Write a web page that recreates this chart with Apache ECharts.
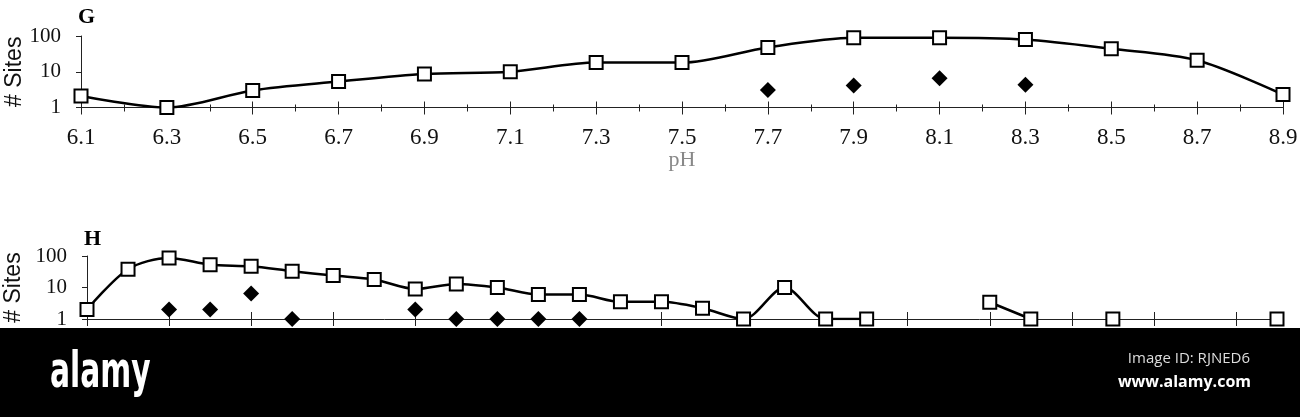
<!DOCTYPE html>
<html>
<head>
<meta charset="utf-8">
<script src="https://cdn.jsdelivr.net/npm/echarts@6/dist/echarts.min.js"></script>
<style>
  html, body { margin: 0; padding: 0; background: #fff; }
  #chart { width: 1300px; height: 417px; }
</style>
</head>
<body>
<div id="chart"></div>
<script>
// ---- Panel G (pH) ----
const gTickLabels = ['6.1','6.2','6.3','6.4','6.5','6.6','6.7','6.8','6.9','7.0',
  '7.1','7.2','7.3','7.4','7.5','7.6','7.7','7.8','7.9','8.0',
  '8.1','8.2','8.3','8.4','8.5','8.6','8.7','8.8','8.9'];
const gPH = ['6.1','6.3','6.5','6.7','6.9','7.1','7.3','7.5','7.7','7.9','8.1','8.3','8.5','8.7','8.9'];
const gSquares = [2.1, 1, 3, 5.3, 8.7, 10, 18, 18, 48, 89, 90, 80, 44, 21, 2.3];
const gDiamondPH = ['7.7','7.9','8.1','8.3'];
const gDiamonds = [3.1, 4.1, 6.6, 4.3];

// ---- Panel H (x labels hidden in source) ----
const hPositions = ['1','2','3','4','5','6','7','8','9','10','11','12','13','14','15',
  '16','17','18','19','20','21','22','23','24','25','26','27','28','29','30'];
const hSquares = [2, 38, 87, 53, 47, 33, 24, 18, 9, 13, 10, 6, 6, 3.5, 3.5,
  2.2, 1, 10, 1, 1, null, null, 3.4, 1, null, 1, null, null, null, 1];
const hDiamonds = [null, null, 2, 2, 6.5, 1, null, null, 2, 1, 1, 1, 1, null, null,
  null, null, null, null, null, null, null, null, null, null, null, null, null, null, null];

const yTicks = ['1', '10', '100'];

const SERIF = 'Liberation Serif';
const SANS = 'Liberation Sans';
const chart = echarts.init(document.getElementById('chart'), null, { renderer: 'canvas' });

function tickAxis(gridIndex, data, opts) {
  return Object.assign({
    type: 'category', gridIndex: gridIndex, data: data, boundaryGap: false,
    position: 'bottom',
    axisLine: { show: false }, axisLabel: { show: false }, splitLine: { show: false }
  }, opts);
}

function yAxis(gridIndex, nameGap) {
  return {
    type: 'log', logBase: 10, min: 1, max: 100, gridIndex: gridIndex,
    axisLine: { show: true, lineStyle: { color: '#222', width: 1 } },
    axisTick: { show: true, length: 5, lineStyle: { color: '#222' } },
    splitLine: { show: false },
    minorTick: { show: false },
    axisLabel: {
      fontFamily: SERIF, fontSize: 21, color: '#111', margin: 20,
      padding: [0, 0, 10, 0],
      formatter: v => yTicks.includes(String(Math.round(v))) ? String(Math.round(v)) : ''
    },
    name: '# Sites', nameLocation: 'middle', nameRotate: 90, nameGap: nameGap,
    nameMoveOverlap: false,
    nameTextStyle: { fontFamily: SANS, fontSize: 23, color: '#111' }
  };
}

const squareStyle = { color: '#fff', borderColor: '#000', borderWidth: 2 };

chart.setOption({
  animation: false,
  backgroundColor: '#fff',
  title: [
    { text: 'G', left: 73, top: 1, textStyle: { fontFamily: SERIF, fontWeight: 'bold', fontSize: 22, color: '#000' } },
    { text: 'H', left: 79, top: 223, textStyle: { fontFamily: SERIF, fontWeight: 'bold', fontSize: 22, color: '#000' } }
  ],
  grid: [
    { left: 81, right: 17, top: 36, height: 71.5, outerBoundsMode: 'none', containLabel: false },
    { left: 87, right: 23, top: 256, height: 63, outerBoundsMode: 'none', containLabel: false }
  ],
  xAxis: [
    {
      type: 'category', gridIndex: 0, data: gTickLabels, boundaryGap: false, position: 'bottom',
      axisLine: { show: true, lineStyle: { color: '#222', width: 1 } },
      axisTick: { show: true, interval: 0, length: 4, lineStyle: { color: '#222' } },
      axisLabel: { interval: 1, fontFamily: SERIF, fontSize: 23, color: '#111', margin: 19 },
      splitLine: { show: false },
      name: 'pH', nameLocation: 'middle', nameGap: 42, nameMoveOverlap: false,
      nameTextStyle: { fontFamily: SERIF, fontSize: 22, color: '#888' }
    },
    tickAxis(0, gTickLabels, { axisTick: { show: true, interval: 0, inside: true, length: 3, lineStyle: { color: '#222' } } }),
    tickAxis(0, gTickLabels, { axisTick: { show: true, interval: 1, length: 7, lineStyle: { color: '#222' } } }),
    tickAxis(0, gTickLabels, { axisTick: { show: true, interval: 1, inside: true, length: 6, lineStyle: { color: '#222' } } }),
    {
      type: 'category', gridIndex: 1, data: hPositions, boundaryGap: false, position: 'bottom',
      axisLine: { show: true, lineStyle: { color: '#222', width: 1 } },
      axisTick: { show: true, interval: 1, length: 7, lineStyle: { color: '#222' } },
      axisLabel: { show: false },
      splitLine: { show: false }
    },
    tickAxis(1, hPositions, { axisTick: { show: true, interval: 1, inside: true, length: 7, lineStyle: { color: '#222' } } })
  ],
  yAxis: [yAxis(0, 55), yAxis(1, 62)],
  series: [
    {
      name: 'All sites (G)', type: 'line', xAxisIndex: 0, yAxisIndex: 0,
      data: gPH.map((p, i) => [p, gSquares[i]]),
      smooth: 0.3, symbol: 'rect', symbolSize: 13,
      lineStyle: { color: '#000', width: 2.5 }, itemStyle: squareStyle, z: 3
    },
    {
      name: 'Occupied sites (G)', type: 'scatter', xAxisIndex: 0, yAxisIndex: 0,
      data: gDiamondPH.map((p, i) => [p, gDiamonds[i]]),
      symbol: 'diamond', symbolSize: 16, itemStyle: { color: '#000', opacity: 1 }, z: 4
    },
    {
      name: 'All sites (H)', type: 'line', xAxisIndex: 4, yAxisIndex: 1,
      data: hSquares, connectNulls: false,
      smooth: 0.3, symbol: 'rect', symbolSize: 13,
      lineStyle: { color: '#000', width: 2.5 }, itemStyle: squareStyle, z: 3
    },
    {
      name: 'Occupied sites (H)', type: 'scatter', xAxisIndex: 4, yAxisIndex: 1,
      data: hDiamonds,
      symbol: 'diamond', symbolSize: 16, itemStyle: { color: '#000', opacity: 1 }, z: 4
    }
  ],
  graphic: [
    { type: 'rect', left: 0, top: 328, z: 100, shape: { width: 1300, height: 89 }, style: { fill: '#000' } },
    { type: 'text', x: 50, y: 349, z: 101, scaleX: 0.66,
      style: { text: 'alamy', fill: '#fff', font: 'bold 50px "DejaVu Sans Condensed", "DejaVu Sans"', textAlign: 'left', textVerticalAlign: 'top' } },
    { type: 'text', x: 1250, y: 359, z: 101,
      style: { text: 'Image ID: RJNED6', fill: '#ddd', font: '15px "Open Sans"', textAlign: 'right', textVerticalAlign: 'middle' } },
    { type: 'text', x: 1251, y: 382, z: 101,
      style: { text: 'www.alamy.com', fill: '#fff', font: 'bold 16px "Open Sans"', textAlign: 'right', textVerticalAlign: 'middle' } }
  ]
});
</script>
</body>
</html>
